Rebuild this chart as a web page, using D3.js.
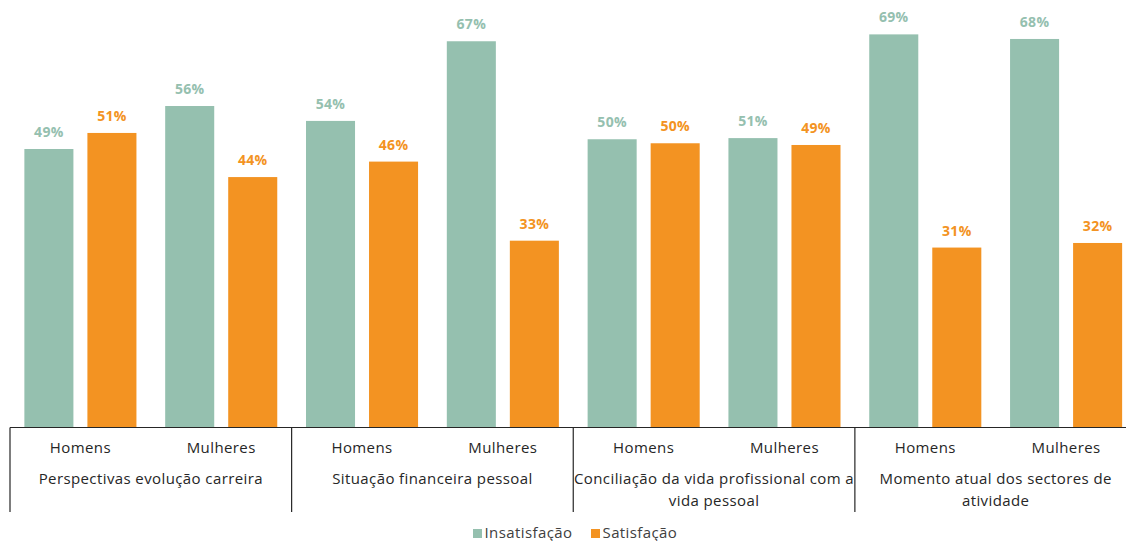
<!DOCTYPE html>
<html><head><meta charset="utf-8">
<script src="https://cdn.jsdelivr.net/npm/d3@7"></script>
<style>
html,body{margin:0;padding:0;background:#fff;overflow:hidden;}
svg{display:block;}
</style></head>
<body>
<svg id="chart" width="1126" height="541"></svg>
<script>
const groups = ["Perspectivas evolução carreira", "Situação financeira pessoal", "Conciliação da vida profissional com a vida pessoal", "Momento atual dos sectores de atividade"];
const groupLines = [["Perspectivas evolução carreira"], ["Situação financeira pessoal"], ["Conciliação da vida profissional com a", "vida pessoal"], ["Momento atual dos sectores de", "atividade"]];
const subcats = ["Homens", "Mulheres"];
const series = ["Insatisfação", "Satisfação"];
const insatisfacao = [48.6, 56.1, 53.5, 67.4, 50.3, 50.5, 68.6, 67.8];
const satisfacao   = [51.4, 43.7, 46.4, 32.6, 49.6, 49.3, 31.4, 32.2];
const colors = ["#95C0AF", "#F39322"];

const svg = d3.select("#chart");
const font = "'Open Sans', 'Noto Sans', sans-serif";
const baseY = 427.5;
const yMax = 74.6;

const x0 = d3.scaleBand().domain(groups).range([10, 1136.5]).padding(0);
const x1 = d3.scaleBand().domain(subcats).range([0, x0.bandwidth()]).padding(0);
const x2 = d3.scaleBand().domain(series).range([0, x1.bandwidth()]).paddingInner(0.222).paddingOuter(0.228);
const y = d3.scaleLinear().domain([0, yMax]).range([baseY, 0]);

const rows = [];
groups.forEach((g, gi) => {
  subcats.forEach((s, si) => {
    const idx = gi * 2 + si;
    rows.push({g, s, k: series[0], v: insatisfacao[idx], c: colors[0]});
    rows.push({g, s, k: series[1], v: satisfacao[idx], c: colors[1]});
  });
});
const bx = d => x0(d.g) + x1(d.s) + x2(d.k);

svg.append("g").selectAll("rect").data(rows).join("rect")
  .attr("x", bx).attr("width", x2.bandwidth())
  .attr("y", d => y(d.v)).attr("height", d => baseY - y(d.v))
  .attr("fill", d => d.c);

svg.append("g").selectAll("text").data(rows).join("text")
  .attr("x", d => bx(d) + x2.bandwidth() / 2)
  .attr("y", d => y(d.v) - 12)
  .attr("text-anchor", "middle")
  .attr("font-family", font).attr("font-weight", 700).attr("font-size", 14)
  .attr("letter-spacing", 0.3)
  .attr("fill", d => d.c)
  .text(d => Math.round(d.v) + "%");

// axis
const axis = svg.append("g");
axis.append("line").attr("x1", 10).attr("x2", 1136).attr("y1", baseY).attr("y2", baseY)
  .attr("stroke", "#262626").attr("stroke-width", 1.2);
groups.forEach(g => {
  axis.append("line").attr("x1", x0(g)).attr("x2", x0(g)).attr("y1", baseY).attr("y2", 512)
    .attr("stroke", "#262626").attr("stroke-width", 1.2);
});
axis.append("line").attr("x1", 1136).attr("x2", 1136).attr("y1", baseY).attr("y2", 512)
  .attr("stroke", "#262626").attr("stroke-width", 1.2);

groups.forEach((g, gi) => {
  subcats.forEach(s => {
    axis.append("text").attr("x", x0(g) + x1(s) + x1.bandwidth() / 2).attr("y", 453)
      .attr("text-anchor", "middle").attr("font-family", font).attr("font-size", 15)
      .attr("letter-spacing", 0.4)
      .attr("fill", "#262626").text(s);
  });
  groupLines[gi].forEach((ln, li) => {
    axis.append("text").attr("x", x0(g) + x0.bandwidth() / 2).attr("y", 484 + li * 21.5)
      .attr("text-anchor", "middle").attr("font-family", font).attr("font-size", 15)
      .attr("letter-spacing", 0.4)
      .attr("fill", "#262626").text(ln);
  });
});

// legend
const legendX = [473, 591];
const leg = svg.append("g");
series.forEach((s, i) => {
  leg.append("rect").attr("x", legendX[i]).attr("y", 529).attr("width", 9).attr("height", 9).attr("fill", colors[i]);
  leg.append("text").attr("x", legendX[i] + 11.5).attr("y", 537.5).attr("font-family", font).attr("font-size", 15)
    .attr("letter-spacing", 0.4)
    .attr("fill", "#404040").text(s);
});
</script>
</body></html>
